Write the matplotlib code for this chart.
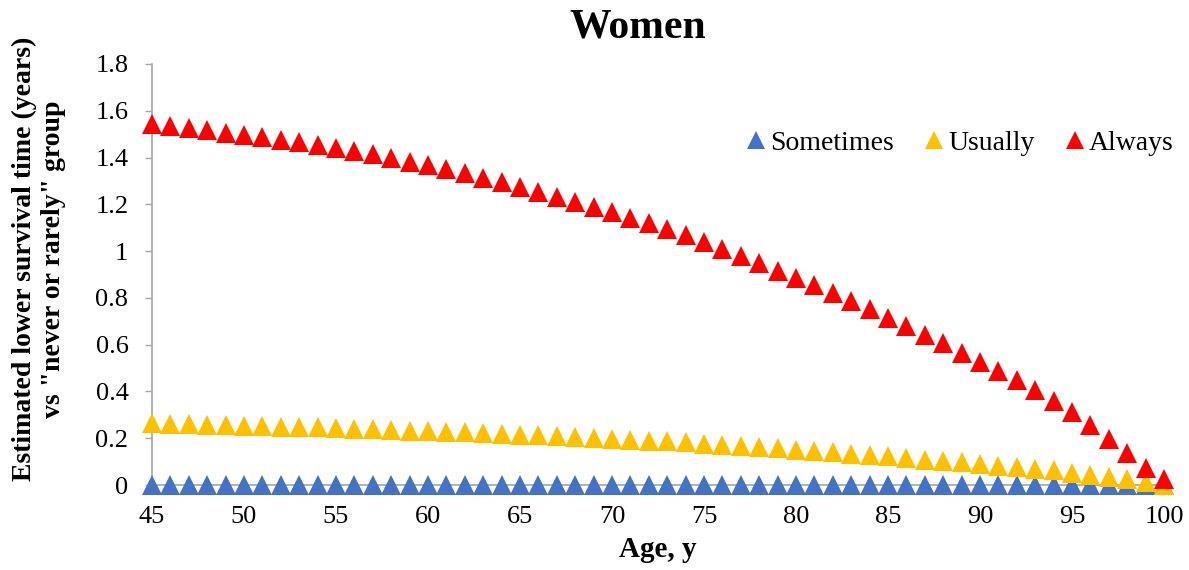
import matplotlib
matplotlib.use("Agg")
import matplotlib.pyplot as plt

plt.rcParams["font.family"] = ["Liberation Serif", "DejaVu Serif"]

# ages 45..100, one point per year
ages = list(range(45, 101))

sometimes = [0.0] * 56

usually = [0.264, 0.262, 0.260, 0.258, 0.256, 0.254, 0.252, 0.250, 0.248, 0.246,
           0.244, 0.241, 0.239, 0.236, 0.233, 0.230, 0.226, 0.225, 0.223, 0.219,
           0.215, 0.212, 0.209, 0.205, 0.200, 0.197, 0.194, 0.190, 0.186, 0.182,
           0.177, 0.172, 0.167, 0.162, 0.157, 0.151, 0.146, 0.140, 0.134, 0.128,
           0.123, 0.116, 0.109, 0.103, 0.097, 0.091, 0.083, 0.076, 0.069, 0.062,
           0.052, 0.044, 0.034, 0.024, 0.012, 0.000]

always = [1.544, 1.537, 1.528, 1.518, 1.506, 1.498, 1.487, 1.476, 1.465, 1.454,
          1.442, 1.428, 1.414, 1.400, 1.383, 1.368, 1.350, 1.333, 1.313, 1.294,
          1.274, 1.252, 1.231, 1.210, 1.188, 1.167, 1.142, 1.120, 1.093, 1.067,
          1.038, 1.010, 0.980, 0.949, 0.917, 0.885, 0.854, 0.821, 0.785, 0.751,
          0.715, 0.679, 0.642, 0.605, 0.566, 0.527, 0.489, 0.447, 0.405, 0.360,
          0.310, 0.256, 0.197, 0.135, 0.074, 0.024]

series = [("Sometimes", sometimes, "#4472C4"),
          ("Usually", usually, "#FFC000"),
          ("Always", always, "#FF0000")]

W, H = 1189, 570
fig = plt.figure(figsize=(W / 100, H / 100), dpi=100)
ax = fig.add_axes([152 / W, (H - 485) / H, (1164 - 152) / W, (485 - 64) / H])

for name, vals, col in series:
    ax.plot(ages, vals, linestyle="none", marker="^", markersize=13.7,
            color=col, markeredgewidth=0, label=name, clip_on=False, zorder=3)

ax.set_xlim(45, 100)
ax.set_ylim(0, 1.8)
ax.set_xticks(range(45, 101, 5))
ax.set_yticks([0, 0.2, 0.4, 0.6, 0.8, 1, 1.2, 1.4, 1.6, 1.8])
ax.set_yticklabels(["0", "0.2", "0.4", "0.6", "0.8", "1", "1.2", "1.4", "1.6", "1.8"])

for s in ["top", "right"]:
    ax.spines[s].set_visible(False)
ax.spines["left"].set_color("#a6a6a6")
ax.spines["bottom"].set_color("#a6a6a6")
ax.spines["left"].set_linewidth(1.2)
ax.spines["bottom"].set_linewidth(1.2)

ax.tick_params(axis="y", length=5, width=1, color="#a6a6a6", pad=12, labelsize=19)
ax.tick_params(axis="x", length=0, pad=15, labelsize=19)

ax.set_xlabel("Age, y", fontsize=21, fontweight="bold", labelpad=6)

fig.text(39 / W, (H - 259) / H,
         "Estimated lower survival time (years)\nvs \"never or rarely\" group",
         rotation=90, ha="center", va="center", multialignment="center",
         fontsize=20, fontweight="bold", linespacing=1.2)

fig.text(638 / W, 1 - 38 / H, "Women", ha="center", va="baseline",
         fontsize=30, fontweight="bold")

ax.legend(loc="center", bbox_to_anchor=(960 / W, 1 - 143 / H),
          bbox_transform=fig.transFigure, ncol=3, frameon=False, fontsize=20,
          markerscale=0.9, handlelength=0.7, handletextpad=0.15,
          columnspacing=1.1, borderpad=0, borderaxespad=0)

fig.savefig("out.png", dpi=100)
